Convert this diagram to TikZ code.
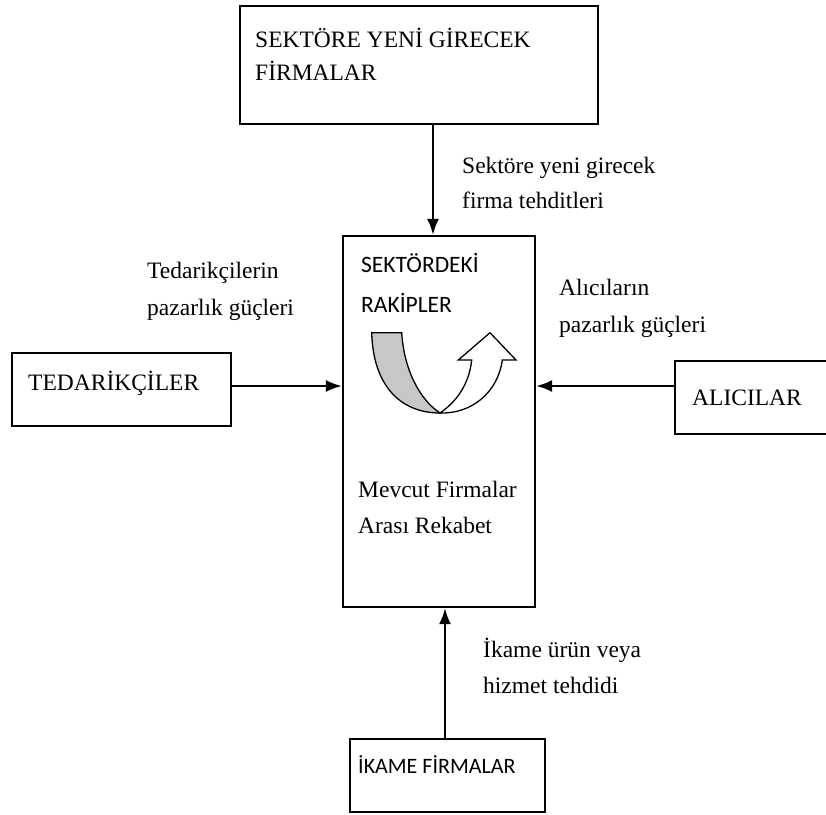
\documentclass[tikz,border=0pt]{standalone}
\usepackage{fontspec}
\setmainfont{Liberation Serif}
\newfontfamily\calibrifont{Carlito}
\usetikzlibrary{arrows.meta}

\tikzset{
    kutu/.style={draw, line width=2.4pt, inner sep=0pt},
    ok/.style={line width=2pt, -{Latex[length=16pt,width=12pt]}},
    yazi/.style={anchor=base west, inner sep=0pt, align=left,
        font=\fontsize{23.5}{36}\selectfont},
    sansyazi/.style={anchor=base west, inner sep=0pt, align=left,
        font=\calibrifont\fontsize{23.5}{40}\selectfont}
}

\begin{document}
\begin{tikzpicture}[
        x=1pt,
        y=-1pt,
        line join=miter
    ]

        \useasboundingbox (0,0) rectangle (826,814);

        % =================================
        % KUTULAR
        % =================================
        \node[kutu, minimum width=358pt, minimum height=118pt] (giris) at (419,65) {};
        \node[kutu, minimum width=192pt, minimum height=371pt] (rakip) at (439,421.5) {};
        \node[kutu, minimum width=219pt, minimum height=73pt] (tedarik) at (121.5,389.5) {};
        \node[kutu, minimum width=165pt, minimum height=73pt] (alici) at (757.5,397.5) {};
        \node[kutu, minimum width=195pt, minimum height=73pt] (ikame) at (447.5,775.5) {};

        % kutu yazilari (cok satirlilarda son satirin tabani)
        \node[yazi, font=\fontsize{23.5}{33}\selectfont] (girisyazi) at (255,80)
            {SEKTÖRE YENİ GİRECEK\\FİRMALAR};
        \node[yazi] (tedarikyazi) at (28,390) {TEDARİKÇİLER};
        \node[yazi] (aliciyazi) at (692,405) {ALICILAR};
        \node[sansyazi] (rakipyazi) at (361,312) {SEKTÖRDEKİ\\RAKİPLER};
        \node[yazi] (rekabetyazi) at (358,533) {Mevcut Firmalar\\Arası Rekabet};
        \node[sansyazi, font=\calibrifont\fontsize{22}{26}\selectfont] (ikameyazi)
            at (358,773) {İKAME FİRMALAR};

        % =================================
        % OKLAR
        % =================================
        \coordinate (ustok) at (433,0);
        \coordinate (yanok) at (0,386);
        \coordinate (altok) at (445,0);

        \draw[ok] (giris.south -| ustok) -- (rakip.north -| ustok);
        \draw[ok] (tedarik.east |- yanok) -- (rakip.west |- yanok);
        \draw[ok] (alici.west |- yanok) -- (rakip.east |- yanok);
        \draw[ok] (ikame.north -| altok) -- (rakip.south -| altok);

        % ok etiketleri
        \node[yazi, font=\fontsize{23.5}{35}\selectfont] (girisetiket) at (462,208)
            {Sektöre yeni girecek\\firma tehditleri};
        \node[yazi, font=\fontsize{23.5}{37}\selectfont] (tedariketiket) at (147,315)
            {Tedarikçilerin\\pazarlık güçleri};
        \node[yazi, font=\fontsize{23.5}{37}\selectfont] (alicietiket) at (559,332)
            {Alıcıların\\pazarlık güçleri};
        \node[yazi] (ikameetiket) at (483,693) {İkame ürün veya\\hizmet tehdidi};

        % =================================
        % DONUS OKU
        % =================================
        \draw[line width=1.3pt, fill=black!22]
            (371.7,332.7) -- (401.7,332.7)
            .. controls (404,370) and (420,400) .. (440,413)
            .. controls (400,413) and (373,385) .. (371.7,332.7) -- cycle;

        \draw[line width=1.3pt, fill=white]
            (440,413) .. controls (472,414) and (498,392) .. (502.3,360)
            -- (516,360) -- (490,332.7) -- (458.3,360) -- (471.7,360)
            .. controls (469,385) and (456,402) .. (440,413) -- cycle;

    \end{tikzpicture}
\end{document}
